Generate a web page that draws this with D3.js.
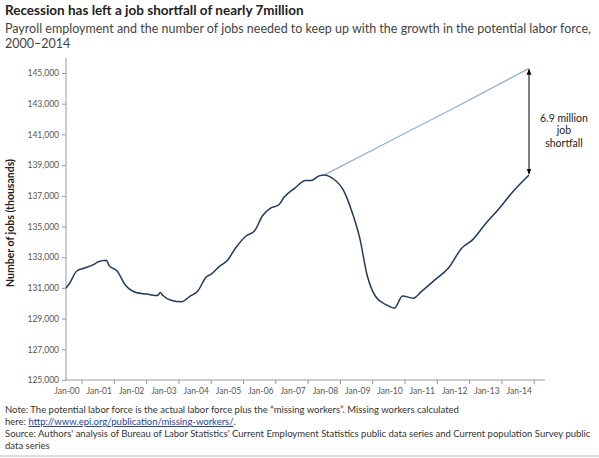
<!DOCTYPE html>
<html><head><meta charset="utf-8">
<script src="https://cdn.jsdelivr.net/npm/d3@7"></script>
<style>body{margin:0;background:#fff;font-family:Lato,"Open Sans",sans-serif}</style>
</head><body><svg id="c" width="599" height="458"></svg>
<script>
// months since Jan 2000, payroll employment (thousands)
const payrollMonths = [0,1,4,7,10,12,15,16,19,22,26,30,34,35,36,39,43,46,49,52,54,57,60,63,67,70,73,76,79,81,85,89,91,94,96,99,103,106,109,112,115,119,122,125,129,132,137,142,147,151,156,161,166,172];
const payrollValues = [131.0,131.2,132.1,132.3,132.5,132.7,132.8,132.45,132.1,131.2,130.7,130.6,130.5,130.7,130.5,130.2,130.1,130.45,130.8,131.7,131.9,132.4,132.8,133.6,134.4,134.7,135.7,136.2,136.4,136.9,137.5,138.0,138.0,138.3,138.36,138.14,137.38,136.08,134.34,131.74,130.44,129.9,129.68,130.47,130.33,130.76,131.52,132.28,133.59,134.13,135.21,136.19,137.27,138.36];
const potentialMonths = [96,120,144,172];
const potentialValues = [138.36,140.54,142.7,145.3];
const yTicks = [125,127,129,131,133,135,137,139,141,143,145];
const xLabels = ["Jan-00","Jan-01","Jan-02","Jan-03","Jan-04","Jan-05","Jan-06","Jan-07","Jan-08","Jan-09","Jan-10","Jan-11","Jan-12","Jan-13","Jan-14"];

const svg = d3.select("#c");
const x = d3.scaleLinear().domain([0,172]).range([66,529]);
const y = d3.scaleLinear().domain([125,145]).range([380,73]);

svg.append("text").attr("x",5).attr("y",15).attr("font-size",13.5).attr("font-weight","bold").attr("fill","#222")
  .text("Recession  has left a job shortfall of nearly 7million");
svg.append("text").attr("x",5).attr("y",33).attr("font-size",12.5).attr("fill","#444")
  .text("Payroll employment and the number of jobs needed to keep up with the growth in the potential labor force,");
svg.append("text").attr("x",5).attr("y",48).attr("font-size",12.5).attr("fill","#444").text("2000–2014");

const ya = svg.append("g").attr("transform","translate(66,0)")
  .call(d3.axisLeft(y).tickValues(yTicks).tickSize(4).tickFormat(d=>d3.format(",")(d*1000)));
ya.select(".domain").attr("d","M0,58V380").attr("stroke","#999");
ya.selectAll("line").attr("stroke","#999");
ya.selectAll("text").attr("font-size",8.5).attr("fill","#555").attr("font-family","Lato,sans-serif");

const xa = svg.append("g").attr("transform","translate(0,380)");
xa.append("line").attr("x1",66).attr("x2",545).attr("stroke","#999");
xLabels.forEach((l,i)=>{
  const px = x(i*12);
  xa.append("line").attr("x1",px+16).attr("x2",px+16).attr("y1",0).attr("y2",4).attr("stroke","#999");
  xa.append("text").attr("x",px+1).attr("y",14).attr("text-anchor","middle").attr("font-size",8.5).attr("fill","#555").text(l);
});

svg.append("text").attr("transform","translate(14,223) rotate(-90)").attr("text-anchor","middle")
  .attr("font-size",10.5).attr("font-weight","bold").attr("fill","#222").text("Number of jobs (thousands)");

const line = d3.line().x(d=>x(d[0])).y(d=>y(d[1])).curve(d3.curveMonotoneX);
svg.append("path").datum(potentialMonths.map((m,i)=>[m,potentialValues[i]])).attr("d",line)
  .attr("fill","none").attr("stroke","#8fb0cf").attr("stroke-width",1.2);
svg.append("path").datum(payrollMonths.map((m,i)=>[m,payrollValues[i]])).attr("d",line)
  .attr("fill","none").attr("stroke","#1f3b5c").attr("stroke-width",1.5);

const defs = svg.append("defs");
defs.append("marker").attr("id","ah").attr("viewBox","0 0 10 10").attr("refX",9).attr("refY",5)
  .attr("markerWidth",6).attr("markerHeight",6).attr("orient","auto-start-reverse")
  .append("path").attr("d","M0,1L10,5L0,9Z").attr("fill","#000");
svg.append("line").attr("x1",x(172)).attr("x2",x(172)).attr("y1",y(145.3)+1).attr("y2",y(138.36)-1)
  .attr("stroke","#000").attr("stroke-width",1).attr("marker-start","url(#ah)").attr("marker-end","url(#ah)");
[["6.9 million",122],["job",134],["shortfall",147]].forEach(t=>
  svg.append("text").attr("x",564).attr("y",t[1]).attr("text-anchor","middle").attr("font-size",10.5).attr("fill","#222").text(t[0]));

const nf = 9.5;
svg.append("text").attr("x",5).attr("y",413).attr("font-size",nf).attr("fill","#333")
  .text("Note:  The potential labor force is the actual labor force plus the “missing workers”.  Missing workers calculated");
const t2 = svg.append("text").attr("x",5).attr("y",425).attr("font-size",nf).attr("fill","#333");
t2.append("tspan").text("here:  ");
t2.append("tspan").attr("fill","#1a3fa0").attr("text-decoration","underline").text("http://www.epi.org/publication/missing-workers/");
t2.append("tspan").text(".");
svg.append("text").attr("x",5).attr("y",437).attr("font-size",nf).attr("fill","#333")
  .text("Source:  Authors' analysis of Bureau of Labor Statistics' Current Employment Statistics public data series and Current population Survey public");
svg.append("text").attr("x",5).attr("y",449).attr("font-size",nf).attr("fill","#333").text("data series");
svg.append("line").attr("x1",0).attr("x2",599).attr("y1",456).attr("y2",456).attr("stroke","#bbb");
</script></body></html>
